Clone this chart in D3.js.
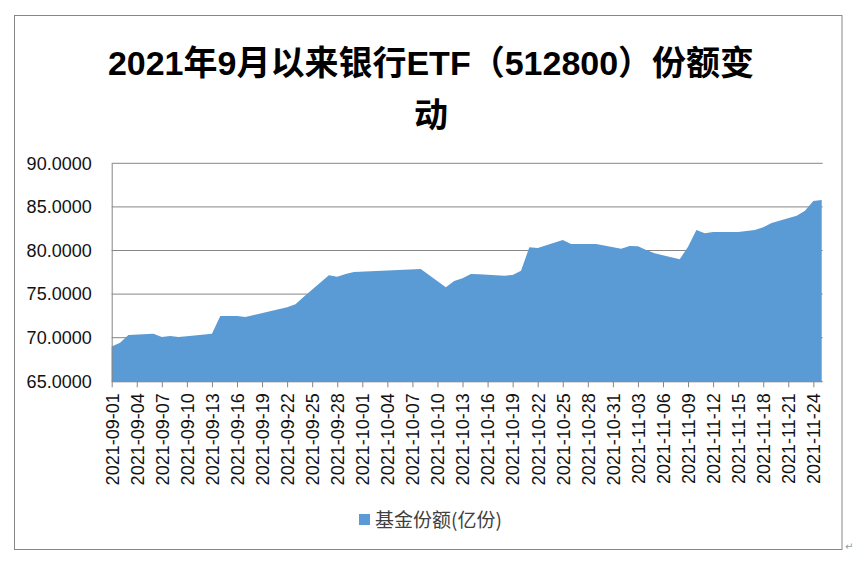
<!DOCTYPE html>
<html lang="zh">
  <head>
    <meta charset="UTF-8" />
    <title>银行ETF份额变动</title>
    <script src="https://d3js.org/d3.v7.min.js"></script>
    <style>
      body { margin: 0; background: #fff; }
      .grid line { stroke: #868686; stroke-width: 1px; }
      .axis text { font-family: "Liberation Sans", Arial, sans-serif; font-size: 18px; fill: #111; }
      .axis path, .axis line { stroke: #868686; }
      .title { font-family: "Liberation Sans", "Noto Sans CJK SC", sans-serif; font-weight: bold; font-size: 34px; fill: #000; }
      .legend text { font-family: "Noto Sans CJK SC", sans-serif; font-size: 19px; fill: #404040; }
    </style>
  </head>
  <body>
    <svg id="chart" width="864" height="563"></svg>
    <script>
      // trading days and fund shares (亿份)
      const dates = [
        "2021-09-01","2021-09-02","2021-09-03","2021-09-06","2021-09-07","2021-09-08","2021-09-09","2021-09-10",
        "2021-09-13","2021-09-14","2021-09-15","2021-09-16","2021-09-17","2021-09-22","2021-09-23","2021-09-24",
        "2021-09-27","2021-09-28","2021-09-29","2021-09-30","2021-10-08","2021-10-11","2021-10-12","2021-10-13",
        "2021-10-14","2021-10-15","2021-10-18","2021-10-19","2021-10-20","2021-10-21","2021-10-22","2021-10-25",
        "2021-10-26","2021-10-27","2021-10-28","2021-10-29","2021-11-01","2021-11-02","2021-11-03","2021-11-04",
        "2021-11-05","2021-11-08","2021-11-09","2021-11-10","2021-11-11","2021-11-12","2021-11-15","2021-11-16",
        "2021-11-17","2021-11-18","2021-11-19","2021-11-22","2021-11-23","2021-11-24","2021-11-25"
      ];
      const shares = [
        69.0, 69.43, 70.31, 70.46, 70.08, 70.2, 70.08, 70.17,
        70.46, 72.49, 72.49, 72.49, 72.37, 73.49, 73.83, 74.7,
        77.16, 77.0, 77.31, 77.53, 77.88, 75.78, 76.5, 76.81,
        77.31, 77.28, 77.11, 77.2, 77.68, 80.37, 80.3, 81.2,
        80.75, 80.75, 80.75, 80.75, 80.21, 80.52, 80.48, 80.06,
        79.68, 78.99, 80.44, 82.35, 81.97, 82.12, 82.12, 82.23,
        82.35, 82.66, 83.15, 83.99, 84.57, 85.68, 85.79
      ];
      const yTicks = [65, 70, 75, 80, 85, 90];
      const titleLines = ["2021年9月以来银行ETF（512800）份额变", "动"];
      const seriesName = "基金份额(亿份)";

      const parse = d3.timeParse("%Y-%m-%d");
      const fmt = d3.timeFormat("%Y-%m-%d");
      const data = dates.map((d, i) => ({ date: parse(d), value: shares[i] }));

      const svg = d3.select("#chart");
      const plot = { left: 111.7, right: 821.7, top: 163.3, bottom: 381.3 };

      // outer chart border
      svg.append("rect")
        .attr("x", 14.5).attr("y", 15.5)
        .attr("width", 827.5).attr("height", 534)
        .attr("fill", "#fff").attr("stroke", "#878787");

      const x = d3.scaleTime()
        .domain([data[0].date, data[data.length - 1].date])
        .range([plot.left, plot.right]);
      const y = d3.scaleLinear()
        .domain([65, 90])
        .range([plot.bottom, plot.top]);

      // horizontal gridlines
      svg.append("g").attr("class", "grid")
        .selectAll("line")
        .data(yTicks)
        .join("line")
        .attr("x1", plot.left).attr("x2", plot.right + 1)
        .attr("y1", d => y(d)).attr("y2", d => y(d));

      const area = d3.area()
        .x(d => x(d.date))
        .y0(y(65))
        .y1(d => y(d.value));

      svg.append("path")
        .datum(data)
        .attr("fill", "#5B9BD5")
        .attr("d", area);

      // y axis
      const yAxis = svg.append("g")
        .attr("class", "axis")
        .attr("transform", "translate(" + plot.left + ",0)")
        .call(d3.axisLeft(y).tickValues(yTicks).tickSize(0).tickPadding(20)
          .tickFormat(d3.format(".4f")));
      yAxis.select(".domain").attr("stroke", "#868686");

      // x axis, tick every 3 days
      const xTicks = d3.timeDay.range(data[0].date, data[data.length - 1].date, 3);
      const xAxis = svg.append("g")
        .attr("class", "axis")
        .attr("transform", "translate(0," + plot.bottom + ")")
        .call(d3.axisBottom(x).tickValues(xTicks).tickSize(6).tickSizeOuter(0).tickFormat(fmt));
      xAxis.select(".domain").attr("stroke", "#868686");
      xAxis.selectAll("text")
        .attr("text-anchor", "end")
        .attr("transform", "rotate(-90)")
        .attr("x", -12)
        .attr("y", 0)
        .attr("dy", "0.35em");

      // title
      const title = svg.append("text")
        .attr("class", "title")
        .attr("text-anchor", "middle");
      title.selectAll("tspan")
        .data(titleLines)
        .join("tspan")
        .attr("x", 431)
        .attr("y", (d, i) => 75 + i * 52)
        .text(d => d);

      // legend
      const legend = svg.append("g").attr("class", "legend");
      legend.append("rect")
        .attr("x", 359).attr("y", 514)
        .attr("width", 11).attr("height", 11)
        .attr("fill", "#5B9BD5");
      legend.append("text")
        .attr("x", 375).attr("y", 520)
        .attr("dy", "0.35em")
        .text(seriesName);

      svg.append("text")
        .attr("x", 845).attr("y", 550)
        .attr("font-size", 10).attr("fill", "#999")
        .attr("font-family", "DejaVu Sans")
        .text("↵");
    </script>
  </body>
</html>
